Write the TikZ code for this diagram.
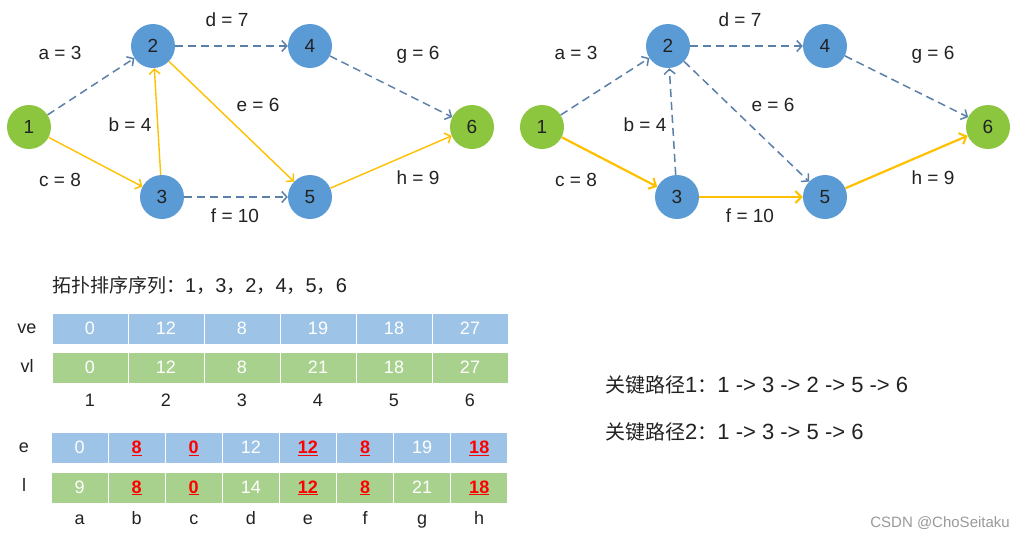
\documentclass[tikz,border=0pt]{standalone}
\usepackage{fontspec}
\setmainfont{Liberation Sans}
\newfontfamily\cjk{Noto Sans CJK SC}
\usetikzlibrary{arrows.meta}
\definecolor{nblue}{HTML}{5B9BD5}
\definecolor{ngreen}{HTML}{8CC63F}
\definecolor{dashc}{HTML}{5A7FA8}
\definecolor{yel}{HTML}{FFC000}
\definecolor{barblue}{HTML}{9DC3E6}
\definecolor{bargreen}{HTML}{A9D18E}
\definecolor{txtdark}{HTML}{222222}
\newcommand\crv[1]{\textcolor{red}{\textbf{\underline{#1}}}}
\newcommand\cj[1]{{\cjk #1}}
\begin{document}
\begin{tikzpicture}[x=1pt,y=-1pt,
  vtx/.style={circle, minimum size=44pt, inner sep=0pt, text=txtdark, font=\fontsize{19}{22}\selectfont},
  bv/.style={vtx, fill=nblue},
  gv/.style={vtx, fill=ngreen},
  tipstyle/.style={-{Straight Barb[length=5pt,width=11pt,line width=1.5pt]}},
  dedge/.style={draw=dashc, line width=1.5pt, dash pattern=on 8pt off 5pt, tipstyle},
  yedge/.style={draw=yel, line width=1.4pt, tipstyle},
  yedgeb/.style={draw=yel, line width=2.2pt, -{Straight Barb[length=6pt,width=12pt,line width=2pt]}},
  lbl/.style={text=txtdark, font=\fontsize{19}{22}\selectfont, inner sep=0pt, text height=13.5pt, text depth=4pt},
  cell/.style={minimum height=31pt, inner sep=0pt, draw=white, line width=1pt, text=white, font=\fontsize{18}{20}\selectfont, text height=13pt, text depth=2pt},
  rowlbl/.style={text=txtdark, font=\fontsize{18}{20}\selectfont, inner sep=0pt, text height=13pt, text depth=4pt},
  cjktxt/.style={text=txtdark, inner sep=0pt, anchor=west}
]
\useasboundingbox (0,0) rectangle (1015,542);

% ---------- left graph ----------
\node[gv] (L1) at (29,127) {1};
\node[bv] (L2) at (153,46) {2};
\node[bv] (L4) at (310,46) {4};
\node[gv] (L6) at (472,127) {6};
\node[bv] (L3) at (162,197) {3};
\node[bv] (L5) at (310,197) {5};
\draw[dedge] (L1) -- (L2);
\draw[dedge] (L2) -- (L4);
\draw[dedge] (L4) -- (L6);
\draw[dedge] (L3) -- (L5);
\draw[yedge] (L1) -- (L3);
\draw[yedge] (L3) -- (L2);
\draw[yedge] (L2) -- (L5);
\draw[yedge] (L5) -- (L6);
\node[lbl] (La) at (60,55) {a = 3};
\node[lbl] (Ld) at (227,22) {d = 7};
\node[lbl] (Lg) at (418,55) {g = 6};
\node[lbl] (Le) at (258,107) {e = 6};
\node[lbl] (Lb) at (130,127) {b = 4};
\node[lbl] (Lc) at (60,182) {c = 8};
\node[lbl] (Lh) at (418,180) {h = 9};
\node[lbl] (Lf) at (235,218) {f = 10};

% ---------- right graph ----------
\node[gv] (R1) at (542,127) {1};
\node[bv] (R2) at (668,46) {2};
\node[bv] (R4) at (825,46) {4};
\node[gv] (R6) at (988,127) {6};
\node[bv] (R3) at (677,197) {3};
\node[bv] (R5) at (825,197) {5};
\draw[dedge] (R1) -- (R2);
\draw[dedge] (R2) -- (R4);
\draw[dedge] (R4) -- (R6);
\draw[dedge] (R3) -- (R2);
\draw[dedge] (R2) -- (R5);
\draw[yedgeb] (R1) -- (R3);
\draw[yedgeb] (R3) -- (R5);
\draw[yedgeb] (R5) -- (R6);
\node[lbl] (Ra) at (576,55) {a = 3};
\node[lbl] (Rd) at (740,22) {d = 7};
\node[lbl] (Rg) at (933,55) {g = 6};
\node[lbl] (Re) at (773,107) {e = 6};
\node[lbl] (Rb) at (645,127) {b = 4};
\node[lbl] (Rc) at (576,182) {c = 8};
\node[lbl] (Rh) at (933,180) {h = 9};
\node[lbl] (Rf) at (750,218) {f = 10};

% ---------- topological order ----------
\node[cjktxt, font=\fontsize{20}{22}\selectfont] (topo) at (52,285)
  {\cj{\fontsize{19}{22}\selectfont 拓扑排序序列：}1\cj{\fontsize{19}{22}\selectfont ，}3\cj{\fontsize{19}{22}\selectfont ，}2\cj{\fontsize{19}{22}\selectfont ，}4\cj{\fontsize{19}{22}\selectfont ，}5\cj{\fontsize{19}{22}\selectfont ，}6};

% ---------- vertex table ----------
\node[rowlbl] (velbl) at (27,329) {ve};
\node[rowlbl] (vllbl) at (27,368) {vl};
\foreach \v [count=\i] in {0,12,8,19,18,27}
  \node[cell, fill=barblue, minimum width=76pt] (ve\i) at ({52+76*(\i-0.5)},328.5) {\v};
\foreach \v [count=\i] in {0,12,8,21,18,27}
  \node[cell, fill=bargreen, minimum width=76pt] (vl\i) at ({52+76*(\i-0.5)},368) {\v};
\foreach \i in {1,...,6}
  \node[rowlbl] (vi\i) at ({52+76*(\i-0.5)},402) {\i};

% ---------- activity table ----------
\node[rowlbl] (elbl) at (24,448) {e};
\node[rowlbl] (llbl) at (24,487) {l};
\foreach \v [count=\i] in {0,\crv{8},\crv{0},12,\crv{12},\crv{8},19,\crv{18}}
  \node[cell, fill=barblue, minimum width=57.1pt] (e\i) at ({51+57.1*(\i-0.5)},448) {\v};
\foreach \v [count=\i] in {9,\crv{8},\crv{0},14,\crv{12},\crv{8},21,\crv{18}}
  \node[cell, fill=bargreen, minimum width=57.1pt] (l\i) at ({51+57.1*(\i-0.5)},487.5) {\v};
\foreach \t [count=\i] in {a,b,c,d,e,f,g,h}
  \node[rowlbl] (act\i) at ({51+57.1*(\i-0.5)},520) {\t};

% ---------- critical paths ----------
\node[cjktxt, font=\fontsize{22}{24}\selectfont] (cp1) at (605,385)
  {\cj{\fontsize{20}{22}\selectfont 关键路径}1\cj{\fontsize{20}{22}\selectfont ：}1 -> 3 -> 2 -> 5 -> 6};
\node[cjktxt, font=\fontsize{22}{24}\selectfont] (cp2) at (605,432)
  {\cj{\fontsize{20}{22}\selectfont 关键路径}2\cj{\fontsize{20}{22}\selectfont ：}1 -> 3 -> 5 -> 6};

% ---------- watermark ----------
\node[text=black!40, font=\fontsize{15}{17}\selectfont, anchor=east, inner sep=0pt] (wm) at (1010,523) {CSDN @ChoSeitaku};
\end{tikzpicture}
\end{document}
